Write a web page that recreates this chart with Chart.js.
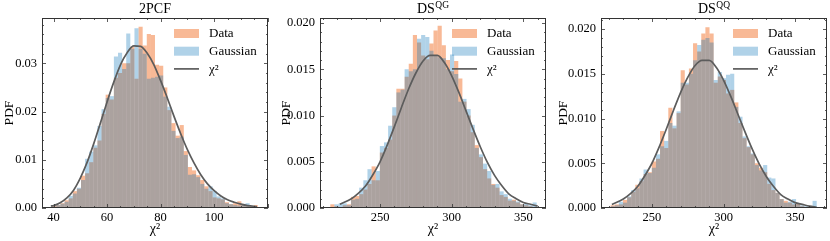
<!DOCTYPE html>
<html>
<head>
<meta charset="UTF-8">
<title>chi2 histograms</title>
<script src="https://cdn.jsdelivr.net/npm/chart.js@4.4.0/dist/chart.umd.min.js"></script>
<style>
  body { margin: 0; background: #fff; }
  .row { position: relative; width: 830px; height: 241px; }
  canvas { position: absolute; top: 0; }
</style>
</head>
<body>
<div class="row">
  <canvas id="c1" width="277" height="241" style="left:0px"></canvas>
  <canvas id="c2" width="277" height="241" style="left:277px"></canvas>
  <canvas id="c3" width="276" height="241" style="left:554px"></canvas>
</div>
<script>
// ---- panel 1: 2PCF ----
const p1Bins = [40.27,41.81,43.34,44.88,46.41,47.95,49.49,51.02,52.56,54.09,
  55.63,57.17,58.70,60.24,61.77,63.31,64.85,66.38,67.92,69.45,
  70.99,72.53,74.06,75.60,77.13,78.67,80.21,81.74,83.28,84.81,
  86.35,87.89,89.42,90.96,92.49,94.03,95.57,97.10,98.64,100.17,
  101.71,103.25,104.78,106.32,107.85,109.39,110.93,112.46,114.00,115.53];
const p1Data = [0.0005,0.0006,0.0010,0.0016,0.0020,0.0035,0.0040,0.0067,0.0072,0.0095,
  0.0125,0.0140,0.0195,0.0235,0.0225,0.0270,0.0280,0.0300,0.0300,0.0335,
  0.0268,0.0376,0.0337,0.0361,0.0359,0.0297,0.0295,0.0250,0.0203,0.0176,
  0.0150,0.0172,0.0118,0.0085,0.0078,0.0068,0.0058,0.0045,0.0035,0.0022,
  0.0020,0.0018,0.0012,0.0008,0.0010,0.0014,0.0006,0.0005,0.0004,0.0006];
const p1Gauss = [0.0003,0.0006,0.0009,0.0013,0.0025,0.0030,0.0042,0.0058,0.0102,0.0117,
  0.0130,0.0170,0.0205,0.0228,0.0232,0.0314,0.0322,0.0288,0.0362,0.0330,
  0.0373,0.0330,0.0320,0.0268,0.0270,0.0272,0.0275,0.0231,0.0210,0.0160,
  0.0145,0.0148,0.0110,0.0069,0.0070,0.0064,0.0050,0.0040,0.0045,0.0035,
  0.0024,0.0020,0.0010,0.0008,0.0006,0.0005,0.0008,0.0010,0.0003,0.0002];
const p1CurveX = [39,40,42.5,45,47.5,50,52.5,55,57.5,60,62.5,65,67.5,70,72.5,75,77.5,80,
  82.5,85,87.5,90,92.5,95,97.5,100,102.5,105,107.5,110,112.5,116];
const p1CurveY = [0.0004,0.0005,0.0011,0.0021,0.0037,0.0062,0.0094,0.0133,0.0176,0.0220,
  0.0261,0.0297,0.0322,0.0336,0.0335,0.0321,0.0297,0.0264,0.0228,0.0190,0.0154,0.0121,
  0.0093,0.0069,0.0050,0.0036,0.0025,0.0017,0.0012,0.0008,0.0005,0.0003];
const p1XTicks = [40, 60, 80, 100];
const p1XLabels = ['40', '60', '80', '100'];
const p1YTicks = [0, 0.01, 0.02, 0.03];
const p1YLabels = ['0.00', '0.01', '0.02', '0.03'];

// ---- panel 2: DS^QG ----
const p2Bins = [216.74,219.62,222.50,225.38,228.26,231.14,234.02,236.90,239.78,242.66,
  245.54,248.42,251.30,254.18,257.06,259.94,262.82,265.70,268.58,271.46,
  274.34,277.22,280.10,282.98,285.86,288.74,291.62,294.50,297.38,300.26,
  303.14,306.02,308.90,311.78,314.66,317.54,320.42,323.30,326.18,329.06,
  331.94,334.82,337.70,340.58,343.46,346.34,349.22,352.10,354.98,357.86];
const p2Data = [0.0004,0.0002,0.0000,0.0003,0.0004,0.0012,0.0013,0.0015,0.0020,0.0026,
  0.0045,0.0030,0.0060,0.0065,0.0074,0.0100,0.0129,0.0129,0.0142,0.0156,
  0.0187,0.0179,0.0165,0.0161,0.0178,0.0192,0.0197,0.0176,0.0160,0.0148,
  0.0159,0.0140,0.0115,0.0100,0.0082,0.0068,0.0055,0.0042,0.0032,0.0026,
  0.0022,0.0014,0.0012,0.0008,0.0009,0.0006,0.0004,0.0003,0.0002,0.0001];
const p2Gauss = [0.0001,0.0004,0.0005,0.0005,0.0003,0.0009,0.0010,0.0022,0.0030,0.0042,
  0.0030,0.0040,0.0067,0.0071,0.0089,0.0109,0.0125,0.0128,0.0150,0.0148,
  0.0150,0.0183,0.0187,0.0185,0.0170,0.0165,0.0163,0.0162,0.0150,0.0166,
  0.0145,0.0115,0.0118,0.0107,0.0090,0.0065,0.0058,0.0048,0.0040,0.0025,
  0.0026,0.0018,0.0015,0.0010,0.0008,0.0007,0.0004,0.0005,0.0003,0.0006];
const p2CurveX = [222,230,235,240,245,250,255,260,265,270,275,280,285,290,295,300,
  305,310,315,320,325,330,335,340,345,350,355,360];
const p2CurveY = [0.0004,0.0010,0.0016,0.0024,0.0036,0.0050,0.0068,0.0088,0.0109,0.0129,
  0.0146,0.0159,0.0165,0.0165,0.0157,0.0143,0.0125,0.0105,0.0085,0.0066,0.0049,0.0035,
  0.0024,0.0015,0.0010,0.0006,0.0004,0.0002];
const p2XTicks = [250, 300, 350];
const p2XLabels = ['250', '300', '350'];
const p2YTicks = [0, 0.005, 0.010, 0.015, 0.020];
const p2YLabels = ['0.000', '0.005', '0.010', '0.015', '0.020'];

// ---- panel 3: DS^QQ ----
const p3Bins = [222.54,225.42,228.30,231.18,234.06,236.94,239.82,242.70,245.58,248.46,
  251.34,254.22,257.10,259.98,262.86,265.74,268.62,271.50,274.38,277.26,
  280.14,283.02,285.90,288.78,291.66,294.54,297.42,300.30,303.18,306.06,
  308.94,311.82,314.70,317.58,320.46,323.34,326.22,329.10,331.98,334.86,
  337.74,340.62,343.50,346.38,349.26,352.14,355.02,357.90,360.78,363.66];
const p3Data = [0.0003,0.0004,0.0004,0.0009,0.0012,0.0018,0.0026,0.0030,0.0038,0.0040,
  0.0052,0.0055,0.0086,0.0067,0.0112,0.0089,0.0106,0.0154,0.0138,0.0156,
  0.0184,0.0175,0.0195,0.0202,0.0195,0.0140,0.0147,0.0143,0.0128,0.0132,
  0.0118,0.0095,0.0078,0.0068,0.0060,0.0050,0.0045,0.0040,0.0027,0.0020,
  0.0017,0.0010,0.0008,0.0006,0.0004,0.0005,0.0002,0.0001,0.0002,0.0001];
const p3Gauss = [0.0002,0.0003,0.0007,0.0006,0.0013,0.0020,0.0022,0.0033,0.0043,0.0039,
  0.0045,0.0060,0.0069,0.0075,0.0095,0.0092,0.0108,0.0140,0.0140,0.0150,
  0.0165,0.0182,0.0188,0.0190,0.0185,0.0143,0.0152,0.0145,0.0149,0.0150,
  0.0113,0.0102,0.0080,0.0069,0.0061,0.0048,0.0042,0.0048,0.0034,0.0033,
  0.0017,0.0010,0.0006,0.0007,0.0010,0.0004,0.0003,0.0002,0.0002,0.0008];
const p3CurveX = [222,230,235,240,245,250,255,260,265,270,275,280,285,290,295,300,
  305,310,315,320,325,330,335,340,345,350,355,360,365];
const p3CurveY = [0.0004,0.0010,0.0016,0.0024,0.0036,0.0050,0.0068,0.0088,0.0109,0.0129,
  0.0146,0.0159,0.0165,0.0165,0.0157,0.0143,0.0125,0.0105,0.0085,0.0066,0.0049,0.0035,
  0.0024,0.0015,0.0010,0.0006,0.0004,0.0002,0.0001];
const p3XTicks = [250, 300, 350];
const p3XLabels = ['250', '300', '350'];
const p3YTicks = [0, 0.005, 0.010, 0.015, 0.020];
const p3YLabels = ['0.000', '0.005', '0.010', '0.015', '0.020'];

const legendLabels = ['Data', 'Gaussian', 'χ²'];

const FONT = '"Liberation Serif", "DejaVu Serif", serif';
Chart.defaults.font.family = FONT;
Chart.defaults.color = '#000';

const ORANGE = 'rgba(241,115,45,0.5)';
const BLUE = 'rgba(0,110,181,0.31)';
const LINE = '#5c5c5c';

// title with optional superscript
const supTitle = {
  id: 'supTitle',
  afterDraw(chart, args, o) {
    const { ctx, chartArea: a } = chart;
    ctx.save();
    ctx.fillStyle = '#000';
    ctx.textBaseline = 'alphabetic';
    const big = '14px ' + FONT, small = '9.5px ' + FONT;
    ctx.font = big;
    const w1 = ctx.measureText(o.text).width;
    ctx.font = small;
    const w2 = o.sup ? ctx.measureText(o.sup).width + 0.5 : 0;
    const x = (a.left + a.right) / 2 - (w1 + w2) / 2;
    const base = a.top - 5;
    ctx.font = big;
    ctx.fillText(o.text, x, base);
    if (o.sup) {
      ctx.font = small;
      ctx.fillText(o.sup, x + w1 + 0.5, base - 5);
    }
    ctx.restore();
  }
};

// legend inside the axes, upper right
const innerLegend = {
  id: 'innerLegend',
  afterDraw(chart) {
    const { ctx, chartArea: a } = chart;
    const ds = chart.data.datasets;
    const px = a.right - 94;
    ctx.save();
    ctx.font = '13px ' + FONT;
    ctx.textBaseline = 'middle';
    legendLabels.forEach((lab, i) => {
      const cy = a.top + 15.5 + i * 17.7;
      const d = ds.find(s => s.label === lab);
      if (d.type === 'line') {
        ctx.strokeStyle = d.borderColor;
        ctx.lineWidth = d.borderWidth;
        ctx.beginPath();
        ctx.moveTo(px, cy);
        ctx.lineTo(px + 25, cy);
        ctx.stroke();
      } else {
        ctx.fillStyle = d.backgroundColor;
        ctx.fillRect(px, cy - 4.5, 25, 9);
      }
      ctx.fillStyle = '#000';
      ctx.fillText(lab, px + 35, cy + 0.5);
    });
    ctx.restore();
  }
};

// box frame with inward major/minor ticks on all four sides
const frame = {
  id: 'frame',
  afterDatasetsDraw(chart, args, o) {
    const { ctx, chartArea: a, scales: { x, y } } = chart;
    ctx.save();
    ctx.strokeStyle = '#333';
    ctx.lineWidth = 0.8;
    ctx.beginPath();
    const isMajor = (v, m) => Math.abs(v / m - Math.round(v / m)) < 1e-6;
    for (let k = Math.ceil(x.min / o.xMinor); k * o.xMinor <= x.max; k++) {
      const v = k * o.xMinor;
      const p = Math.round(x.getPixelForValue(v)) + 0.5;
      const len = isMajor(v, o.xMajor) ? 4 : 2;
      ctx.moveTo(p, a.bottom); ctx.lineTo(p, a.bottom - len);
      ctx.moveTo(p, a.top); ctx.lineTo(p, a.top + len);
    }
    for (let k = 0; k * o.yMinor <= y.max + 1e-12; k++) {
      const v = k * o.yMinor;
      const p = Math.round(y.getPixelForValue(v)) + 0.5;
      const len = isMajor(v, o.yMajor) ? 4 : 2;
      ctx.moveTo(a.left, p); ctx.lineTo(a.left + len, p);
      ctx.moveTo(a.right, p); ctx.lineTo(a.right - len, p);
    }
    ctx.stroke();
    ctx.lineWidth = 1;
    ctx.strokeRect(a.left + 0.5, a.top + 0.5, a.width - 1, a.height - 1);
    ctx.restore();
  }
};

function makePanel(id, p) {
  const pts = (xs, ys) => xs.map((v, i) => ({ x: v, y: ys[i] }));
  const barOpts = { grouped: false, barPercentage: 1, categoryPercentage: 1,
    borderWidth: 0, inflateAmount: 0 };
  return new Chart(document.getElementById(id), {
    type: 'bar',
    data: {
      datasets: [
        { type: 'line', label: 'χ²', data: pts(p.curveX, p.curveY), borderColor: LINE,
          borderWidth: 1.7, pointRadius: 0, cubicInterpolationMode: 'monotone', order: 0 },
        Object.assign({ label: 'Gaussian', data: pts(p.bins, p.gauss), backgroundColor: BLUE, order: 1 }, barOpts),
        Object.assign({ label: 'Data', data: pts(p.bins, p.data), backgroundColor: ORANGE, order: 2 }, barOpts)
      ]
    },
    options: {
      responsive: false,
      animation: false,
      devicePixelRatio: 1,
      layout: { padding: { left: 0, right: p.padRight, top: 18, bottom: 0 } },
      plugins: {
        legend: { display: false },
        tooltip: { enabled: false },
        supTitle: { text: p.title, sup: p.sup },
        frame: { xMinor: p.xMinor, xMajor: p.xMajor, yMinor: p.yMinor, yMajor: p.yMajor }
      },
      scales: {
        x: {
          type: 'linear', min: p.xMin, max: p.xMax, offset: false,
          grid: { display: false, drawTicks: false }, border: { display: false },
          afterBuildTicks: s => { s.ticks = p.xTicks.map(v => ({ value: v })); },
          afterFit: s => { s.height = 33; },
          ticks: { autoSkip: false, maxRotation: 0, padding: 2, font: { size: 12.5 },
            callback: (v, i) => p.xLabels[i] },
          title: { display: true, text: 'χ²', font: { size: 14 }, padding: { top: 0, bottom: 3 } }
        },
        y: {
          min: 0, max: p.yMax,
          grid: { display: false, drawTicks: false }, border: { display: false },
          afterBuildTicks: s => { s.ticks = p.yTicks.map(v => ({ value: v })); },
          afterFit: s => { s.width = p.yWidth; },
          ticks: { padding: 5, font: { size: 12.5 }, callback: (v, i) => p.yLabels[i] },
          title: { display: true, text: 'PDF', font: { size: 13.5 }, padding: { top: 1, bottom: 0 } }
        }
      }
    },
    plugins: [frame, supTitle, innerLegend]
  });
}

makePanel('c1', {
  bins: p1Bins, data: p1Data, gauss: p1Gauss, curveX: p1CurveX, curveY: p1CurveY,
  xTicks: p1XTicks, xLabels: p1XLabels, yTicks: p1YTicks, yLabels: p1YLabels,
  xMin: 35.7, xMax: 120.1, yMax: 0.0394, xMinor: 5, xMajor: 20, yMinor: 0.002, yMajor: 0.01,
  title: '2PCF', sup: '', yWidth: 42, padRight: 9
});
makePanel('c2', {
  bins: p2Bins, data: p2Data, gauss: p2Gauss, curveX: p2CurveX, curveY: p2CurveY,
  xTicks: p2XTicks, xLabels: p2XLabels, yTicks: p2YTicks, yLabels: p2YLabels,
  xMin: 208.1, xMax: 365.8, yMax: 0.02055, xMinor: 10, xMajor: 50, yMinor: 0.001, yMajor: 0.005,
  title: 'DS', sup: 'QG', yWidth: 43, padRight: 8
});
makePanel('c3', {
  bins: p3Bins, data: p3Data, gauss: p3Gauss, curveX: p3CurveX, curveY: p3CurveY,
  xTicks: p3XTicks, xLabels: p3XLabels, yTicks: p3YTicks, yLabels: p3YLabels,
  xMin: 214.4, xMax: 372.3, yMax: 0.02123, xMinor: 10, xMajor: 50, yMinor: 0.001, yMajor: 0.005,
  title: 'DS', sup: 'QQ', yWidth: 47, padRight: 3
});
</script>
</body>
</html>
